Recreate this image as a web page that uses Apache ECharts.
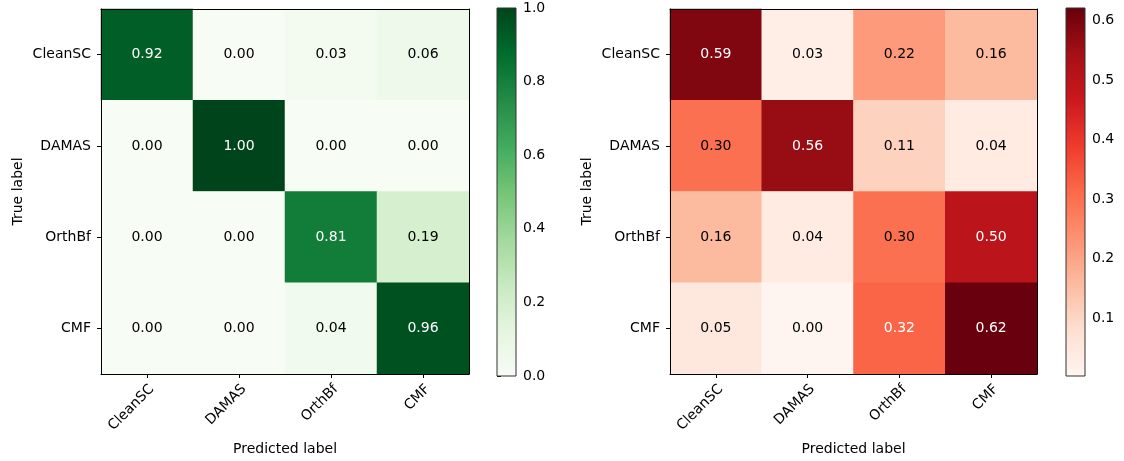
<!DOCTYPE html>
<html>
<head>
<meta charset="utf-8">
<script src="https://cdn.jsdelivr.net/npm/echarts@6/dist/echarts.min.js"></script>
<style>
  html, body { margin: 0; padding: 0; background: #fff; }
  #chart { width: 1124px; height: 461px; }
</style>
</head>
<body>
<div id="chart"></div>
<script>
var labels = ['CleanSC', 'DAMAS', 'OrthBf', 'CMF'];

// rows = true label, columns = predicted label
var leftMatrix = [
    [0.92, 0.00, 0.03, 0.06],
    [0.00, 1.00, 0.00, 0.00],
    [0.00, 0.00, 0.81, 0.19],
    [0.00, 0.00, 0.04, 0.96]
];
var rightMatrix = [
    [0.59, 0.03, 0.22, 0.16],
    [0.30, 0.56, 0.11, 0.04],
    [0.16, 0.04, 0.30, 0.50],
    [0.05, 0.00, 0.32, 0.62]
];

var leftRange = [0, 1];
var rightRange = [0.003, 0.621];
var leftTicks = [0, 0.2, 0.4, 0.6, 0.8, 1.0];
var rightTicks = [0.1, 0.2, 0.3, 0.4, 0.5, 0.6];

var greens = ['#f7fcf5', '#e5f5e0', '#c7e9c0', '#a1d99b', '#74c476', '#41ab5d', '#238b45', '#006d2c', '#00441b'];
var reds = ['#fff5f0', '#fee0d2', '#fcbba1', '#fc9272', '#fb6a4a', '#ef3b2c', '#cb181d', '#a50f15', '#67000d'];

var FONT = 'DejaVu Sans';
var FS = 14;

var chart = echarts.init(document.getElementById('chart'));

function cells(matrix, range) {
    var thresh = range[1] / 2;
    var out = [];
    for (var r = 0; r < matrix.length; r++) {
        for (var c = 0; c < matrix[r].length; c++) {
            var v = matrix[r][c];
            out.push({
                value: [c, r, v],
                label: {color: v > thresh ? '#ffffff' : '#000000'}
            });
        }
    }
    return out;
}

function colorbar(colors) {
    var stops = [];
    for (var i = 0; i < colors.length; i++) {
        stops.push({offset: i / (colors.length - 1), color: colors[colors.length - 1 - i]});
    }
    return function (params, api) {
        var p0 = api.coord([0, api.value(0)]);
        var p1 = api.coord([1, api.value(1)]);
        return {
            type: 'rect',
            shape: {x: p0[0], y: p1[1], width: p1[0] - p0[0], height: p0[1] - p1[1]},
            style: {
                fill: new echarts.graphic.LinearGradient(0, 0, 0, 1, stops),
                stroke: '#333',
                lineWidth: 1
            }
        };
    };
}

var grids = [
    {left: 101, top: 9, width: 368, height: 367},
    {left: 670, top: 9, width: 367, height: 367},
    {left: 497, top: 8, width: 19, height: 368},
    {left: 1066, top: 8, width: 19, height: 368}
];

var blackLine = {show: true, lineStyle: {color: '#000', width: 1}};
var txt = {fontFamily: FONT, fontSize: FS, color: '#000'};

function catAxes(g) {
    return {
        x: [{
            gridIndex: g, type: 'category', data: labels, position: 'bottom', z: 10,
            axisLine: blackLine,
            axisTick: {show: true, alignWithLabel: true, length: 4, lineStyle: {color: '#000'}},
            axisLabel: Object.assign({rotate: 45, margin: 8, interval: 0, verticalAlign: 'top'}, txt),
            splitLine: {show: false},
            name: 'Predicted label', nameLocation: 'middle', nameGap: 68,
            nameTextStyle: txt
        }, {
            gridIndex: g, type: 'category', data: labels, position: 'top', z: 10,
            axisLine: blackLine, axisTick: {show: false}, axisLabel: {show: false}
        }],
        y: [{
            gridIndex: g, type: 'category', data: labels, inverse: true, position: 'left', z: 10,
            axisLine: blackLine,
            axisTick: {show: true, alignWithLabel: true, length: 4, lineStyle: {color: '#000'}},
            axisLabel: Object.assign({margin: 10, interval: 0}, txt),
            splitLine: {show: false},
            name: 'True label', nameLocation: 'middle', nameGap: 76, nameRotate: 90,
            nameTextStyle: txt
        }, {
            gridIndex: g, type: 'category', data: labels, inverse: true, position: 'right', z: 10,
            axisLine: blackLine, axisTick: {show: false}, axisLabel: {show: false}
        }]
    };
}

function barAxes(g, range, ticks, digits) {
    return {
        x: {gridIndex: g, type: 'value', min: 0, max: 1, show: false},
        y: {
            gridIndex: g, type: 'value', min: range[0], max: range[1], position: 'right',
            axisLine: {show: false},
            splitLine: {show: false},
            axisTick: {show: true, length: 4, customValues: ticks, lineStyle: {color: '#000'}},
            axisLabel: Object.assign({
                margin: 7, customValues: ticks,
                formatter: function (v) { return v.toFixed(digits); }
            }, txt)
        }
    };
}

var a0 = catAxes(0), a1 = catAxes(1);
var b0 = barAxes(2, leftRange, leftTicks, 1), b1 = barAxes(3, rightRange, rightTicks, 1);

var heatLabel = {
    show: true, fontFamily: FONT, fontSize: FS,
    formatter: function (p) { return p.value[2].toFixed(2); }
};

chart.setOption({
    animation: false,
    backgroundColor: '#fff',
    grid: grids,
    xAxis: a0.x.concat(a1.x, [b0.x, b1.x]),
    yAxis: a0.y.concat(a1.y, [b0.y, b1.y]),
    visualMap: [
        {type: 'continuous', show: false, seriesIndex: 0, min: leftRange[0], max: leftRange[1], inRange: {color: greens}},
        {type: 'continuous', show: false, seriesIndex: 1, min: rightRange[0], max: rightRange[1], inRange: {color: reds}}
    ],
    series: [
        {type: 'heatmap', xAxisIndex: 0, yAxisIndex: 0, data: cells(leftMatrix, leftRange), label: heatLabel},
        {type: 'heatmap', xAxisIndex: 2, yAxisIndex: 2, data: cells(rightMatrix, rightRange), label: heatLabel},
        {type: 'custom', xAxisIndex: 4, yAxisIndex: 4, renderItem: colorbar(greens), data: [leftRange]},
        {type: 'custom', xAxisIndex: 5, yAxisIndex: 5, renderItem: colorbar(reds), data: [rightRange]}
    ]
});
</script>
</body>
</html>
